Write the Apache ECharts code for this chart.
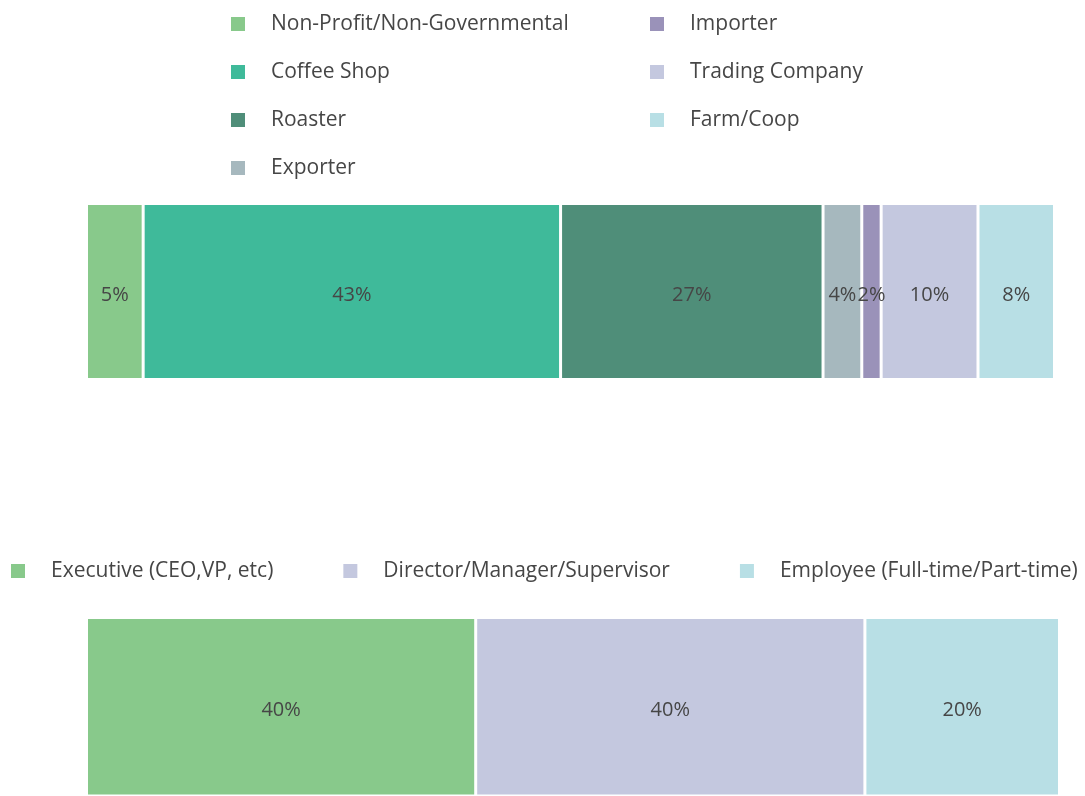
<!DOCTYPE html>
<html>
<head>
    <meta charset="utf-8">
    <title>ECharts</title>
    <script src="https://cdn.jsdelivr.net/npm/echarts@6/dist/echarts.min.js"></script>
    <style>
        html, body, #main {
            width: 100%;
            height: 100%;
            margin: 0;
            overflow: hidden;
        }
    </style>
</head>
<body>
    <div id="main"></div>
    <script type="text/javascript">
        // top bar: organisation type
        var orgNames = ['Non-Profit/Non-Governmental', 'Coffee Shop', 'Roaster', 'Exporter', 'Importer', 'Trading Company', 'Farm/Coop'];
        var orgValues = [5.85, 43.1, 27.1, 4.0, 2.0, 10.0, 7.9];
        var orgLabels = ['5%', '43%', '27%', '4%', '2%', '10%', '8%'];
        var orgColors = ['#88c98b', '#3fba9a', '#4f8e79', '#a6b8be', '#9a92b9', '#c4c8df', '#b8dfe5'];

        // bottom bar: role
        var roleNames = ['Executive (CEO,VP, etc)', 'Director/Manager/Supervisor', 'Employee (Full-time/Part-time)'];
        var roleValues = [40, 40, 20];
        var roleLabels = ['40%', '40%', '20%'];
        var roleColors = ['#88c98b', '#c4c8df', '#b8dfe5'];

        var myChart = echarts.init(document.getElementById('main'));

        var fontFamily = '"Open Sans", sans-serif';
        var textColor = '#464646';

        function sum(arr) {
            var s = 0;
            for (var i = 0; i < arr.length; i++) s += arr[i];
            return s;
        }

        function barSeries(name, stack, axis, value, label, color) {
            return {
                name: name,
                type: 'bar',
                stack: stack,
                xAxisIndex: axis,
                yAxisIndex: axis,
                barWidth: '100%',
                data: [value],
                itemStyle: { color: color, borderColor: '#fff', borderWidth: 1.5 },
                label: {
                    show: true,
                    position: 'inside',
                    offset: [0, 4],
                    formatter: label,
                    color: textColor,
                    fontSize: 20,
                    fontFamily: fontFamily
                },
                emphasis: { disabled: true }
            };
        }

        var series = [];
        for (var i = 0; i < orgNames.length; i++) {
            series.push(barSeries(orgNames[i], 'org', 0, orgValues[i], orgLabels[i], orgColors[i]));
        }
        for (var j = 0; j < roleNames.length; j++) {
            series.push(barSeries(roleNames[j], 'role', 1, roleValues[j], roleLabels[j], roleColors[j]));
        }

        var legendText = {
            color: textColor,
            fontSize: 21,
            fontFamily: fontFamily,
            lineHeight: 22,
            padding: [0, 0, 0, 20]
        };

        function legend(extra) {
            var base = {
                padding: 0,
                itemWidth: 16,
                itemHeight: 16,
                icon: 'rect',
                selectedMode: false,
                textStyle: legendText
            };
            for (var k in extra) base[k] = extra[k];
            return base;
        }

        var option = {
            animation: false,
            legend: [
                legend({ orient: 'vertical', left: 229, top: 13, itemGap: 26, data: orgNames.slice(0, 4) }),
                legend({ orient: 'vertical', left: 648, top: 13, itemGap: 26, data: orgNames.slice(4) }),
                legend({ orient: 'horizontal', left: 9, top: 560, itemGap: 68, data: roleNames })
            ],
            grid: [
                { left: 86.5, top: 203.5, width: 968, height: 176 },
                { left: 86.5, top: 617.5, width: 973, height: 200 }
            ],
            xAxis: [
                { type: 'value', gridIndex: 0, min: 0, max: sum(orgValues), show: false },
                { type: 'value', gridIndex: 1, min: 0, max: sum(roleValues), show: false }
            ],
            yAxis: [
                { type: 'category', gridIndex: 0, data: [''], show: false },
                { type: 'category', gridIndex: 1, data: [''], show: false }
            ],
            series: series
        };

        myChart.setOption(option);
        window.onresize = myChart.resize;
    </script>
</body>
</html>
